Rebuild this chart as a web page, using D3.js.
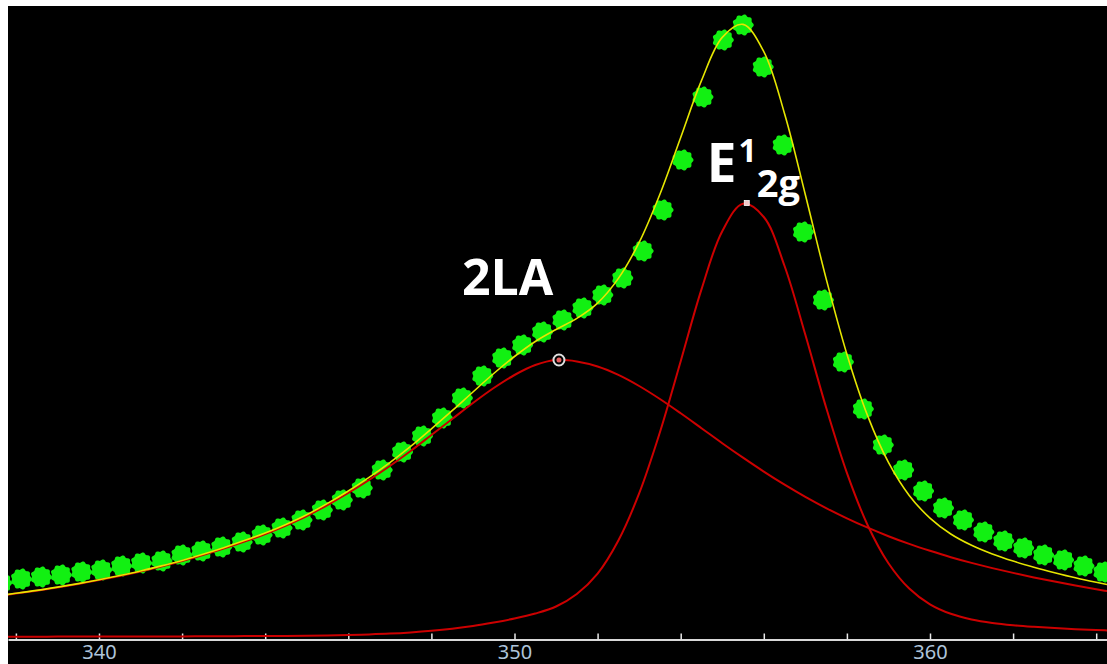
<!DOCTYPE html>
<html>
<head>
<meta charset="utf-8">
<script src="https://cdn.jsdelivr.net/npm/d3@7"></script>
<style>
  html, body { margin: 0; padding: 0; background: #fff; }
  svg { display: block; }
</style>
</head>
<body>
<svg id="chart" width="1107" height="664"></svg>
<script>
// Raman spectrum: measured points, fitted envelope and the two fitted bands (2LA, E¹2g)

// measured spectrum (Raman shift, cm-1 / intensity, a.u.)
const measShift = [337.65, 338.13, 338.61, 339.09, 339.58, 340.06, 340.54, 341.02, 341.51, 341.99,
  342.47, 342.95, 343.44, 343.92, 344.40, 344.88, 345.37, 345.85, 346.33, 346.81,
  347.30, 347.78, 348.26, 348.74, 349.23, 349.71, 350.19, 350.67, 351.16, 351.64,
  352.12, 352.60, 353.09, 353.57, 354.05, 354.53, 355.02, 355.50, 355.98, 356.46,
  356.95, 357.43, 357.91, 358.39, 358.87, 359.36, 359.84, 360.32, 360.80, 361.29,
  361.77, 362.25, 362.73, 363.21, 363.70, 364.18];
const measIntensity = [54, 58, 60, 62, 65, 67, 71, 74, 76, 82,
  86, 90, 95, 102, 109, 117, 127, 137, 149, 167,
  185, 201, 219, 239, 261, 279, 292, 305, 317, 329,
  342, 359, 386, 427, 477, 540, 597, 612, 570, 492,
  405, 337, 275, 228, 192, 167, 146, 129, 117, 105,
  96, 89, 82, 77, 71, 65];

// fitted curves, sampled on a common shift grid
const fitShift = [337.5, 338, 338.5, 339, 339.5, 340, 340.5, 341, 341.5, 342,
  342.5, 343, 343.5, 344, 344.5, 345, 345.5, 346, 346.5, 347,
  347.5, 348, 348.5, 349, 349.5, 350, 350.5, 351, 351.5, 352,
  352.5, 353, 353.5, 354, 354.5, 355, 355.5, 356, 356.5, 357,
  357.5, 358, 358.5, 359, 359.5, 360, 360.5, 361, 361.5, 362,
  362.5, 363, 363.5, 364, 364.5];
const band2LA = [40.7, 43.4, 46.3, 49.5, 53.0, 56.9, 61.0, 65.5, 70.5, 76.0,
  82.0, 88.5, 95.5, 103.0, 111.5, 121.0, 132.0, 144.0, 157.0, 171.0,
  186.0, 202.0, 218.0, 234.0, 249.0, 262.0, 272.0, 277.0, 275.6, 270.5,
  262.1, 251.0, 238.0, 223.7, 208.8, 193.8, 179.3, 165.4, 152.3, 140.1,
  128.9, 118.7, 109.3, 100.8, 93.1, 86.2, 79.8, 74.1, 68.9, 64.1,
  59.6, 55.4, 51.4, 47.7, 44.3];
const bandE2g = [0.3, 0.3, 0.3, 0.4, 0.4, 0.4, 0.5, 0.5, 0.6, 0.6,
  0.7, 0.8, 0.9, 1.0, 1.1, 1.3, 1.6, 2.0, 2.6, 3.4,
  4.6, 6.2, 8.3, 11.0, 14.5, 18.5, 23.5, 30.5, 43.0, 63.4,
  96.5, 143.6, 204.8, 275.8, 347.6, 405.8, 433.3, 420.0, 371.0, 302.2,
  229.5, 164.1, 111.8, 73.8, 48.5, 32.7, 23.2, 17.6, 14.1, 11.8,
  10.2, 8.9, 7.8, 7.0, 6.2];
const envelope = [41.0, 43.7, 46.6, 49.9, 53.4, 57.3, 61.5, 66.0, 71.1, 76.6,
  82.7, 89.3, 96.4, 104.0, 112.6, 122.3, 133.6, 146.0, 159.6, 174.4,
  190.6, 208.2, 226.3, 245.0, 263.5, 280.5, 295.5, 307.5, 318.6, 333.9,
  358.6, 394.6, 442.8, 499.5, 556.4, 599.6, 612.6, 585.4, 523.3, 442.3,
  358.4, 282.8, 221.1, 174.6, 141.6, 118.9, 103.0, 91.7, 83.0, 75.9,
  69.8, 64.3, 59.2, 54.7, 50.5];

// fitted band maxima
const peakNames = ["2LA", "E2g"];
const peakShift = [351.07, 355.59];
const peakHeight = [277, 434];

// axis ticks
const tickValues = [338, 340, 342, 344, 346, 348, 350, 352, 354, 356, 358, 360, 362, 364];
const tickLabels = [340, 350, 360];

const svg = d3.select("#chart");
const W = 1107, H = 664;
const plot = { left: 8, top: 6, right: W, bottom: H };

const x = d3.scaleLinear().domain([337.81, 364.26]).range([plot.left, plot.right]);
const y = d3.scaleLinear().domain([0, 631]).range([637, 6]);

// black plot area
svg.append("rect")
  .attr("x", plot.left).attr("y", plot.top)
  .attr("width", plot.right - plot.left).attr("height", plot.bottom - plot.top)
  .attr("fill", "#000");

svg.append("clipPath").attr("id", "clip")
  .append("rect")
  .attr("x", plot.left).attr("y", plot.top)
  .attr("width", plot.right - plot.left).attr("height", plot.bottom - plot.top);

// x axis with upward ticks
const axisY = 639.5;
const axis = d3.axisBottom(x)
  .tickValues(tickValues)
  .tickSize(-6)
  .tickSizeOuter(0)
  .tickPadding(5)
  .tickFormat(d => tickLabels.includes(d) ? String(d) : "");
const gAxis = svg.append("g")
  .attr("transform", `translate(0,${axisY})`)
  .call(axis);
gAxis.select(".domain").attr("stroke", "#d8d8d8").attr("stroke-width", 2);
gAxis.selectAll(".tick line").attr("stroke", "#e8e8e8").attr("stroke-width", 1.5);
gAxis.selectAll(".tick text")
  .attr("fill", "#aec4da")
  .attr("font-family", "'Noto Sans', 'DejaVu Sans', sans-serif")
  .attr("font-size", 20);

const layer = svg.append("g").attr("clip-path", "url(#clip)");

// measured points drawn as small cog-shaped dots
function cogPath(R, n, a) {
  const pts = [];
  const N = 72;
  for (let i = 0; i < N; i++) {
    const t = (i / N) * Math.PI * 2;
    const r = R + a * Math.cos(n * t);
    pts.push([r * Math.cos(t), r * Math.sin(t)]);
  }
  return "M" + pts.map(p => p[0].toFixed(2) + "," + p[1].toFixed(2)).join("L") + "Z";
}
const cog = cogPath(10, 9, 0.75);
const meas = measShift.map((s, i) => ({ s, v: measIntensity[i] }));
layer.append("g").selectAll("path")
  .data(meas).join("path")
  .attr("d", cog)
  .attr("transform", d => `translate(${x(d.s)},${y(d.v)})`)
  .attr("fill", "#12f012");

// fitted bands and envelope
const line = d3.line().x(d => x(d.s)).y(d => y(d.v)).curve(d3.curveCatmullRom.alpha(0.5));
const series = arr => fitShift.map((s, i) => ({ s, v: arr[i] }));

layer.append("path").datum(series(band2LA))
  .attr("d", line).attr("fill", "none").attr("stroke", "#cc0000").attr("stroke-width", 2);
layer.append("path").datum(series(bandE2g))
  .attr("d", line).attr("fill", "none").attr("stroke", "#cc0000").attr("stroke-width", 2);
layer.append("path").datum(series(envelope))
  .attr("d", line).attr("fill", "none").attr("stroke", "#e6e600").attr("stroke-width", 1.6);

// band maximum handles
const hx0 = x(peakShift[0]), hy0 = y(peakHeight[0]);
layer.append("circle").attr("cx", hx0).attr("cy", hy0).attr("r", 5.5)
  .attr("fill", "#000").attr("stroke", "#e0e0e0").attr("stroke-width", 2);
layer.append("circle").attr("cx", hx0).attr("cy", hy0).attr("r", 2.5)
  .attr("fill", "#e86060");
const hx1 = x(peakShift[1]), hy1 = y(peakHeight[1]);
layer.append("rect").attr("x", hx1 - 2.5).attr("y", hy1 - 2.5)
  .attr("width", 5).attr("height", 5)
  .attr("fill", "#f4c8c8").attr("stroke", "#ffffff").attr("stroke-width", 0.8);

// band labels
const labelFont = "'Open Sans', 'Noto Sans', sans-serif";
svg.append("text")
  .attr("x", x(peakShift[0]) - 97).attr("y", 295)
  .attr("font-family", labelFont).attr("font-weight", 700).attr("font-size", 50)
  .attr("fill", "#fff")
  .text(peakNames[0]);

const e = svg.append("text")
  .attr("x", x(peakShift[1]) - 40).attr("y", 182)
  .attr("font-family", labelFont).attr("font-weight", 700).attr("font-size", 53)
  .attr("fill", "#fff");
e.append("tspan").text("E");
e.append("tspan").attr("dx", 2).attr("dy", -20).attr("font-size", 32).text("1");
e.append("tspan").attr("dx", 0).attr("dy", 35).attr("font-size", 38).text("2g");
</script>
</body>
</html>
